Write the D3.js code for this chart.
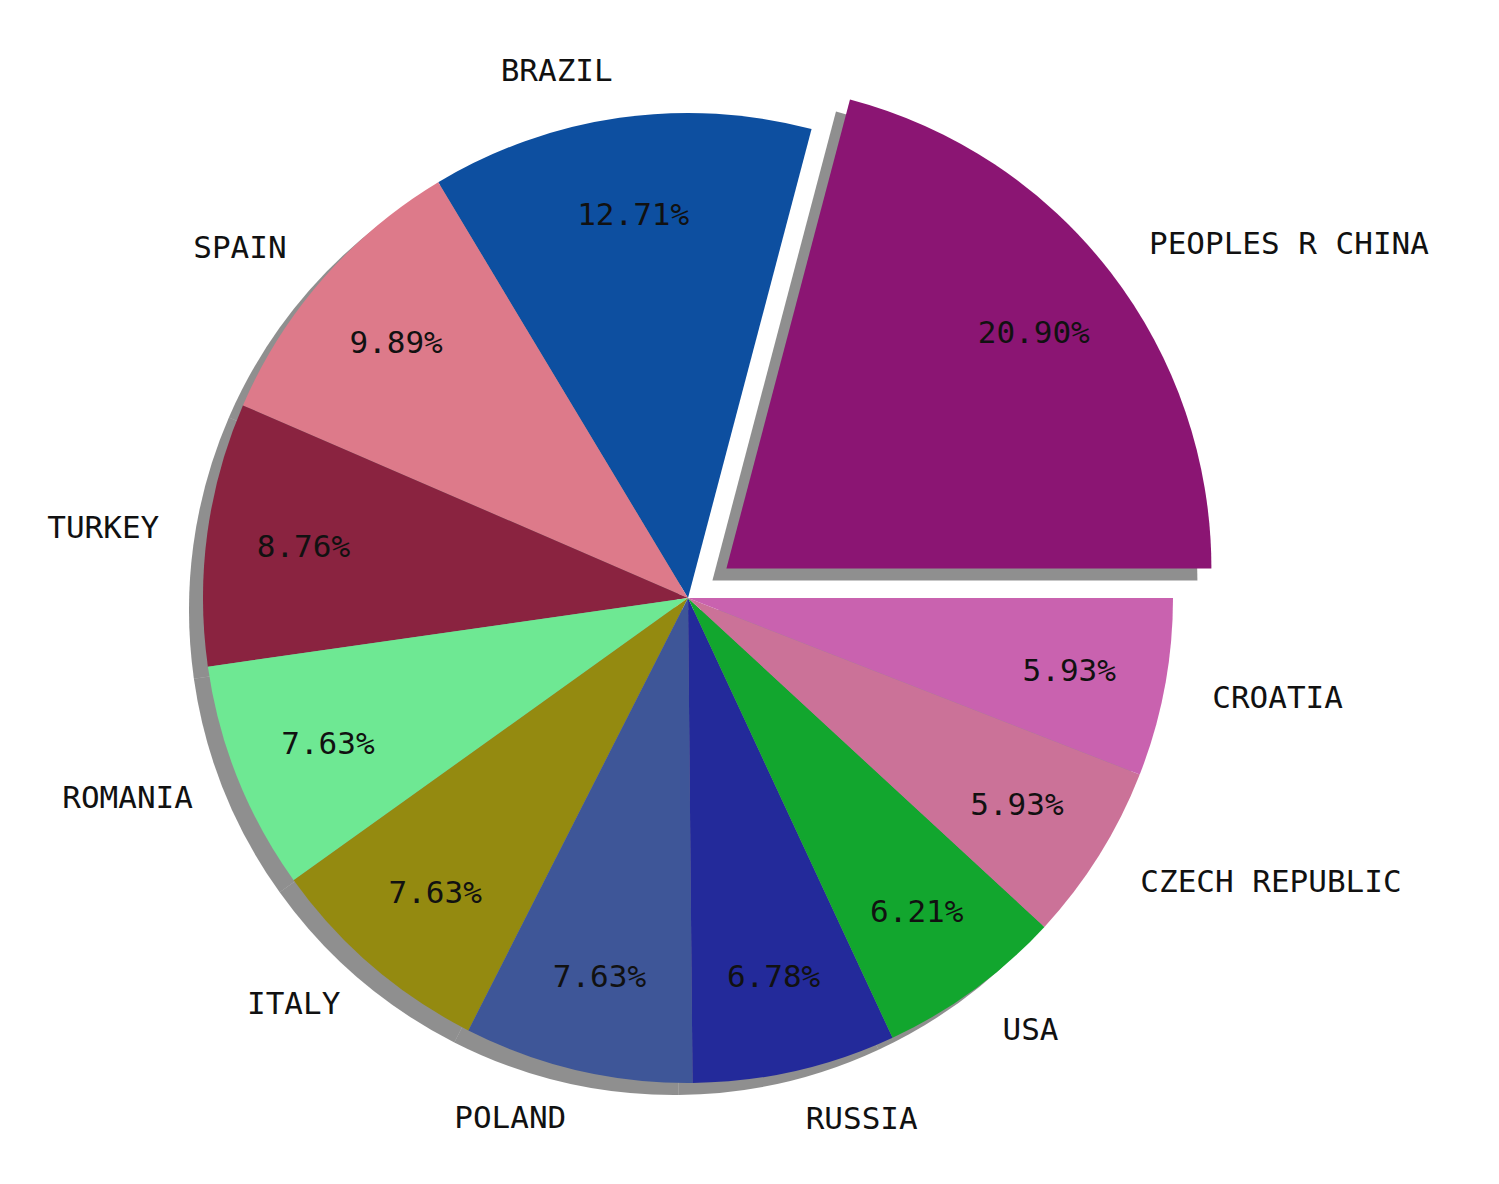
<!DOCTYPE html><html><head><meta charset="utf-8">
<script src="https://cdn.jsdelivr.net/npm/d3@7"></script>
<style>body{margin:0;background:#fff}</style></head><body>
<svg id="c" width="1499" height="1184"></svg>
<script>
const categories=["PEOPLES R CHINA","BRAZIL","SPAIN","TURKEY","ROMANIA","ITALY","POLAND","RUSSIA","USA","CZECH REPUBLIC","CROATIA"];
const values=[20.90,12.71,9.89,8.76,7.63,7.63,7.63,6.78,6.21,5.93,5.93];
const colors=["#8B1573","#0D4FA0","#DD7A8A","#8A2340","#6EE893","#948A10","#3E5698","#232A9A","#12A62E","#CB7298","#C962AF"];
const explode=[0.1,0,0,0,0,0,0,0,0,0,0];
const cx=688,cy=598,R=485;
const svg=d3.select("#c");
const pie=d3.pie().sort(null).startAngle(Math.PI/2).endAngle(Math.PI/2-2*Math.PI);
const arcs=pie(values);
const arc=d3.arc().innerRadius(0).outerRadius(R);
const mid=d=>(d.startAngle+d.endAngle)/2;
const off=(d,i)=>[Math.sin(mid(d))*explode[i]*R,-Math.cos(mid(d))*explode[i]*R];
const font="'DejaVu Sans Mono',monospace";
svg.append("g").selectAll("path").data(arcs).join("path")
 .attr("d",arc).attr("fill","#333").attr("opacity",0.55)
 .attr("transform",(d,i)=>{const o=off(d,i);return `translate(${cx+o[0]-14},${cy+o[1]+12})`;});
svg.append("g").selectAll("path").data(arcs).join("path")
 .attr("d",arc).attr("fill",(d,i)=>colors[i])
 .attr("transform",(d,i)=>{const o=off(d,i);return `translate(${cx+o[0]},${cy+o[1]})`;});
arcs.forEach((d,i)=>{
 const o=off(d,i),a=mid(d),sx=Math.sin(a),sy=-Math.cos(a);
 svg.append("text").attr("x",cx+o[0]+sx*R*1.1).attr("y",cy+o[1]+sy*R*1.1)
  .attr("text-anchor",sx>0?"start":"end").attr("dominant-baseline","central")
  .attr("font-family",font).attr("font-size",31).attr("fill","#111").text(categories[i]);
 svg.append("text").attr("x",cx+o[0]+sx*R*0.8).attr("y",cy+o[1]+sy*R*0.8)
  .attr("text-anchor","middle").attr("dominant-baseline","central")
  .attr("font-family",font).attr("font-size",31).attr("fill","#111").text(values[i].toFixed(2)+"%");
});
</script></body></html>
